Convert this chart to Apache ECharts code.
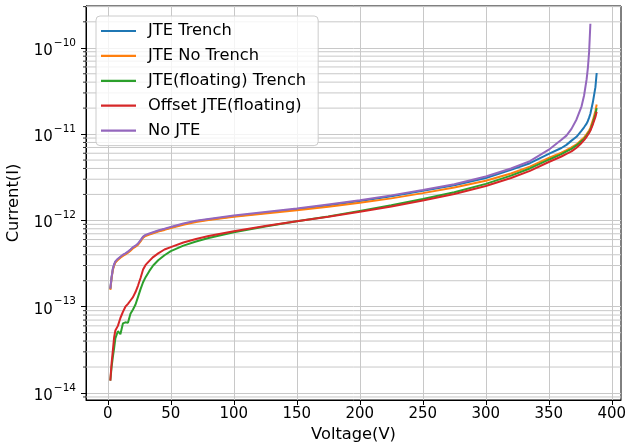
<!DOCTYPE html>
<html>
<head>
<meta charset="utf-8">
<script src="https://cdn.jsdelivr.net/npm/echarts@6/dist/echarts.min.js"></script>
<style>
  html, body { margin: 0; padding: 0; background: #fff; }
  #chart { width: 626px; height: 442px; }
</style>
</head>
<body>
<div id="chart"></div>
<script>
// Reverse-bias leakage current vs. voltage for several edge-termination designs.
const voltage = [2, 3, 4, 5, 6, 8, 10, 12, 14, 16, 18, 20, 22, 24, 26, 28, 30, 33, 36, 40,
  45, 50, 60, 70, 80, 100, 125, 150, 175, 200, 225, 250, 275, 300, 320, 335, 350, 360, 364, 368,
  372, 376, 378, 380, 381, 382, 383, 385, 387, 388];

const jteTrench = [1.6e-13, 2.17e-13, 2.71e-13, 3.05e-13, 3.3e-13, 3.55e-13, 3.75e-13, 3.94e-13, 4.09e-13, 4.29e-13,
  4.53e-13, 4.83e-13, 5.02e-13, 5.32e-13, 5.81e-13, 6.4e-13, 6.7e-13, 6.94e-13, 7.19e-13, 7.54e-13,
  7.88e-13, 8.27e-13, 9.05e-13, 9.75e-13, 1.025e-12, 1.12e-12, 1.23e-12, 1.35e-12, 1.5e-12, 1.68e-12,
  1.91e-12, 2.2e-12, 2.56e-12, 3.1e-12, 3.85e-12, 4.6e-12, 5.9e-12, 6.9e-12, 7.5e-12, 8.4e-12,
  9.3e-12, 1.1e-11, 1.2e-11, 1.32e-11, 1.42e-11, 1.55e-11, 1.72e-11, 2.35e-11, 3.5e-11, 5.1e-11];

const jteNoTrench = [1.57e-13, 2.13e-13, 2.67e-13, 3.0e-13, 3.25e-13, 3.49e-13, 3.69e-13, 3.88e-13, 4.03e-13, 4.22e-13,
  4.46e-13, 4.75e-13, 4.95e-13, 5.24e-13, 5.72e-13, 6.3e-13, 6.6e-13, 6.84e-13, 7.08e-13, 7.42e-13,
  7.76e-13, 8.15e-13, 8.9e-13, 9.6e-13, 1.01e-12, 1.1e-12, 1.2e-12, 1.31e-12, 1.44e-12, 1.6e-12,
  1.8e-12, 2.07e-12, 2.4e-12, 2.88e-12, 3.5e-12, 4.2e-12, 5.3e-12, 6.1e-12, 6.5e-12, 7.0e-12,
  7.6e-12, 8.6e-12, 9.1e-12, 1.0e-11, 1.05e-11, 1.1e-11, 1.18e-11, 1.45e-11, 1.85e-11, 2.2e-11];

const jteFloatingTrench = [1.39e-14, 2.0e-14, 2.6e-14, 3.3e-14, 4.3e-14, 5.2e-14, 4.8e-14, 6.4e-14, 6.6e-14, 6.5e-14,
  8.3e-14, 9.3e-14, 1.06e-13, 1.3e-13, 1.6e-13, 1.92e-13, 2.2e-13, 2.6e-13, 3.0e-13, 3.45e-13,
  3.95e-13, 4.4e-13, 5.1e-13, 5.7e-13, 6.25e-13, 7.3e-13, 8.5e-13, 9.75e-13, 1.11e-12, 1.29e-12,
  1.5e-12, 1.77e-12, 2.12e-12, 2.65e-12, 3.3e-12, 4.0e-12, 5.05e-12, 5.85e-12, 6.3e-12, 6.75e-12,
  7.4e-12, 8.3e-12, 8.8e-12, 9.6e-12, 1.01e-11, 1.06e-11, 1.12e-11, 1.36e-11, 1.7e-11, 2.0e-11];

const offsetJteFloating = [1.39e-14, 2.2e-14, 3.1e-14, 4.4e-14, 5.3e-14, 6.0e-14, 7.4e-14, 8.7e-14, 1.0e-13, 1.08e-13,
  1.18e-13, 1.29e-13, 1.48e-13, 1.76e-13, 2.15e-13, 2.7e-13, 3.05e-13, 3.4e-13, 3.76e-13, 4.15e-13,
  4.6e-13, 4.9e-13, 5.55e-13, 6.1e-13, 6.6e-13, 7.5e-13, 8.6e-13, 9.8e-13, 1.1e-12, 1.26e-12,
  1.45e-12, 1.7e-12, 2.02e-12, 2.5e-12, 3.1e-12, 3.75e-12, 4.75e-12, 5.5e-12, 5.9e-12, 6.3e-12,
  6.95e-12, 7.9e-12, 8.5e-12, 9.3e-12, 9.8e-12, 1.03e-11, 1.1e-11, 1.3e-11, 1.58e-11, 1.82e-11];

const noJte = [1.62e-13, 2.2e-13, 2.75e-13, 3.1e-13, 3.35e-13, 3.6e-13, 3.8e-13, 4.0e-13, 4.15e-13, 4.35e-13,
  4.6e-13, 4.9e-13, 5.1e-13, 5.4e-13, 5.9e-13, 6.5e-13, 6.8e-13, 7.05e-13, 7.3e-13, 7.65e-13,
  8.0e-13, 8.4e-13, 9.2e-13, 9.9e-13, 1.04e-12, 1.14e-12, 1.25e-12, 1.37e-12, 1.53e-12, 1.71e-12,
  1.95e-12, 2.25e-12, 2.62e-12, 3.22e-12, 4.0e-12, 4.85e-12, 6.6e-12, 8.6e-12, 9.6e-12, 1.15e-11,
  1.48e-11, 2.1e-11, 2.8e-11, 4.3e-11, 5.8e-11, 9.0e-11, 1.9e-10, null, null, null];

const seriesNames = ['JTE Trench', 'JTE No Trench', 'JTE(floating) Trench', 'Offset JTE(floating)', 'No JTE'];
const seriesValues = [jteTrench, jteNoTrench, jteFloatingTrench, offsetJteFloating, noJte];
const seriesColors = ['#1f77b4', '#ff7f0e', '#2ca02c', '#d62728', '#9467bd'];

const xTickValues = [0, 50, 100, 150, 200, 250, 300, 350, 400];
const yTickValues = [1e-14, 1e-13, 1e-12, 1e-11, 1e-10];

// axis ranges
const xMin = -17.3, xMax = 407.3;
const yMin = 8.3e-15, yMax = 3.05e-10;

const FONT = 'DejaVu Sans';
const GRID_COLOR = '#c8c8c8';

// minor log grid lines at 2..9 x 10^n
const minorGrid = [];
for (let n = -15; n <= -10; n++) {
  for (let m = 2; m <= 9; m++) {
    const v = m * Math.pow(10, n);
    if (v > yMin && v < yMax) minorGrid.push(v);
  }
}

const SUP = { '-': '\u2212', '0': '0', '1': '1', '2': '2', '3': '3', '4': '4', '5': '5', '6': '6', '7': '7', '8': '8', '9': '9' };

function pairs(vals) {
  const out = [];
  for (let i = 0; i < voltage.length; i++) {
    if (vals[i] != null) out.push([voltage[i], vals[i]]);
  }
  return out;
}

// minor horizontal grid lines plus short outward minor ticks, placed through the y scale
const series = [{
  name: 'minor-grid',
  type: 'custom',
  silent: true,
  z: 1,
  animation: false,
  clip: false,
  encode: { y: 0 },
  data: minorGrid.map(v => [v]),
  renderItem: (params, api) => {
    const v = api.value(0);
    const p0 = api.coord([xMin, v]);
    const p1 = api.coord([xMax, v]);
    return {
      type: 'group',
      silent: true,
      children: [{
        type: 'line',
        shape: { x1: p0[0], y1: p0[1], x2: p1[0], y2: p1[1] },
        style: { stroke: GRID_COLOR, lineWidth: 1 }
      }, {
        type: 'line',
        shape: { x1: p0[0] - 3, y1: p0[1], x2: p0[0], y2: p0[1] },
        style: { stroke: '#000', lineWidth: 0.8 }
      }]
    };
  }
}];

seriesNames.forEach((name, i) => {
  series.push({
    name: name,
    type: 'line',
    data: pairs(seriesValues[i]),
    showSymbol: false,
    symbol: 'none',
    z: 3 + i,
    lineStyle: { color: seriesColors[i], width: 2 },
    itemStyle: { color: seriesColors[i] },
    emphasis: { disabled: true },
    animation: false
  });
});

const chart = echarts.init(document.getElementById('chart'), null, { renderer: 'canvas' });

chart.setOption({
  animation: false,
  backgroundColor: '#fff',
  textStyle: { fontFamily: FONT },
  grid: {
    left: 86, right: 5, top: 6, bottom: 42,
    outerBoundsMode: 'none',
    containLabel: false,
    show: true, borderColor: '#000', borderWidth: 1, backgroundColor: 'transparent'
  },
  legend: {
    data: seriesNames,
    orient: 'vertical',
    left: 96,
    top: 16,
    icon: 'rect',
    itemWidth: 35,
    itemHeight: 2.2,
    itemGap: 6.9,
    padding: [6, 12, 6, 5],
    backgroundColor: 'rgba(255,255,255,0.8)',
    borderColor: '#cccccc',
    borderWidth: 1,
    borderRadius: 4,
    selectedMode: false,
    textStyle: { fontFamily: FONT, fontSize: 16.3, color: '#000', lineHeight: 18, padding: [0, 0, 0, 7] }
  },
  xAxis: {
    type: 'value',
    min: xMin,
    max: xMax,
    splitNumber: 8,
    name: 'Voltage(V)',
    nameLocation: 'middle',
    nameGap: 25,
    nameTextStyle: { fontFamily: FONT, fontSize: 16.3, color: '#000' },
    axisLine: { show: true, onZero: false, lineStyle: { color: '#000', width: 1 } },
    axisTick: { show: true, length: 5, customValues: xTickValues, lineStyle: { color: '#000' } },
    axisLabel: {
      margin: 7,
      customValues: xTickValues,
      fontFamily: FONT, fontSize: 15, color: '#000',
      formatter: v => (xTickValues.indexOf(Math.round(v * 1000) / 1000) >= 0 ? String(v) : '')
    },
    splitLine: { show: true, lineStyle: { color: GRID_COLOR, width: 1 } }
  },
  yAxis: {
    type: 'log',
    logBase: 10,
    min: yMin,
    max: yMax,
    name: 'Current(I)',
    nameLocation: 'middle',
    nameGap: 64,
    nameTextStyle: { fontFamily: FONT, fontSize: 16.3, color: '#000' },
    axisLine: { show: true, onZero: false, lineStyle: { color: '#000', width: 1 } },
    axisTick: { show: true, length: 5, customValues: yTickValues, lineStyle: { color: '#000' } },
    axisLabel: {
      margin: 10,
      customValues: yTickValues,
      fontFamily: FONT,
      color: '#000',
      formatter: v => {
        const lg = Math.log10(v);
        const e = Math.round(lg);
        if (Math.abs(lg - e) > 1e-6) return '';
        const exp = String(e).split('').map(c => SUP[c]).join('');
        return '{b|10}{e|' + exp + '}';
      },
      rich: {
        b: { fontFamily: FONT, fontSize: 15, color: '#000', padding: [6, 0, 0, 0], verticalAlign: 'bottom' },
        e: { fontFamily: FONT, fontSize: 10.5, color: '#000', padding: [0, 0, 9, 1], verticalAlign: 'top' }
      }
    },
    splitLine: { show: true, lineStyle: { color: GRID_COLOR, width: 1 } }
  },
  series: series
});
</script>
</body>
</html>
